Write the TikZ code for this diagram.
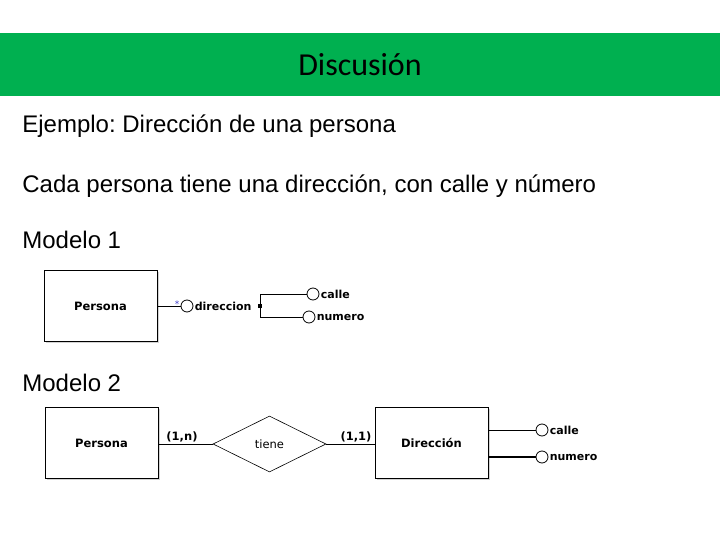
\documentclass[tikz,border=0pt]{standalone}
\usepackage{fontspec}
\setmainfont{Liberation Sans}
\newfontfamily\titlefont{Carlito}
\newfontfamily\erfont{DejaVu Sans}
\usepackage{tikz}
\usetikzlibrary{shapes.geometric, shadows}
\frenchspacing

\begin{document}
\begin{tikzpicture}[
    x=1pt, y=-1pt, line width=0.8pt,
    entity/.style={rectangle, draw, line width=0.9pt, fill=white, minimum width=113pt, minimum height=71pt, inner sep=0pt,
        font=\erfont\bfseries\fontsize{11.5}{13}\selectfont,
        drop shadow={shadow xshift=1.5pt, shadow yshift=-1.5pt, opacity=0.35}},
    relation/.style={diamond, draw, line width=0.6pt, aspect=2, minimum width=113pt, minimum height=56pt, inner sep=0pt,
        font=\erfont\fontsize{11.5}{13}\selectfont},
    attrib/.style={circle, draw, minimum size=12pt, inner sep=0pt},
    attrlabel/.style={anchor=west, inner sep=1pt, font=\erfont\bfseries\fontsize{11}{13}\selectfont},
    card/.style={inner sep=0pt, font=\erfont\bfseries\fontsize{11.5}{13}\selectfont},
    bodytext/.style={anchor=base west, inner sep=0pt, font=\fontsize{24}{28}\selectfont}
]
    \useasboundingbox (0,0) rectangle (720,540);

    % Encabezado
    \node[fill={rgb,255:red,0;green,176;blue,80}, minimum width=720pt, minimum height=63pt, inner sep=0pt,
        font=\titlefont\fontsize{32}{38}\selectfont] (titulo) at (360,64.5) {Discusión};

    % Texto
    \node[bodytext] (ejemplo) at (22,133) {Ejemplo: Dirección de una persona};
    \node[bodytext] (cada) at (22,193) {Cada persona tiene una dirección, con calle y número};
    \node[bodytext] (modelo1) at (22,248) {Modelo 1};
    \node[bodytext] (modelo2) at (22,391) {Modelo 2};

    % Modelo 1
    \node[entity] (persona1) at (100.5,306) {Persona};
    \node[attrib] (dir1) at (187,306) {};
    \node[inner sep=0pt, text={rgb,255:red,60;green,60;blue,200}, font=\erfont\fontsize{9}{10}\selectfont] (mult1) at (177,304) {*};
    \node[attrlabel] (dir1lbl) at (dir1.east) {direccion};
    \node[rectangle, fill, minimum size=3.5pt, inner sep=0pt] (junta) at (260,306) {};
    \node[attrib] (calle1) at (313,294) {};
    \node[attrlabel] (calle1lbl) at (calle1.east) {calle};
    \node[attrib] (numero1) at (309,317) {};
    \node[attrlabel] (numero1lbl) at (numero1.east) {numero};

    \draw (persona1.east) -- (dir1.west);
    \draw (calle1.west) -| (junta.center);
    \draw (numero1.west) -| (junta.center);

    % Modelo 2
    \node[entity] (persona2) at (101.5,443) {Persona};
    \node[relation] (tiene) at (269.5,444) {tiene};
    \node[entity] (direccion2) at (431.5,443) {Dirección};
    \node[card] (card1) at (182,437) {(1,n)};
    \node[card] (card2) at (356,437) {(1,1)};
    \node[attrib] (calle2) at (542,430) {};
    \node[attrlabel] (calle2lbl) at (calle2.east) {calle};
    \node[attrib] (numero2) at (542,457) {};
    \node[attrlabel] (numero2lbl) at (numero2.east) {numero};

    \draw (persona2.east |- tiene.west) -- (tiene.west);
    \draw (tiene.east) -- (direccion2.west |- tiene.east);
    \draw (direccion2.east |- calle2.west) -- (calle2.west);
    \draw[line width=1.5pt] (direccion2.east |- numero2.west) -- (numero2.west);
\end{tikzpicture}
\end{document}
